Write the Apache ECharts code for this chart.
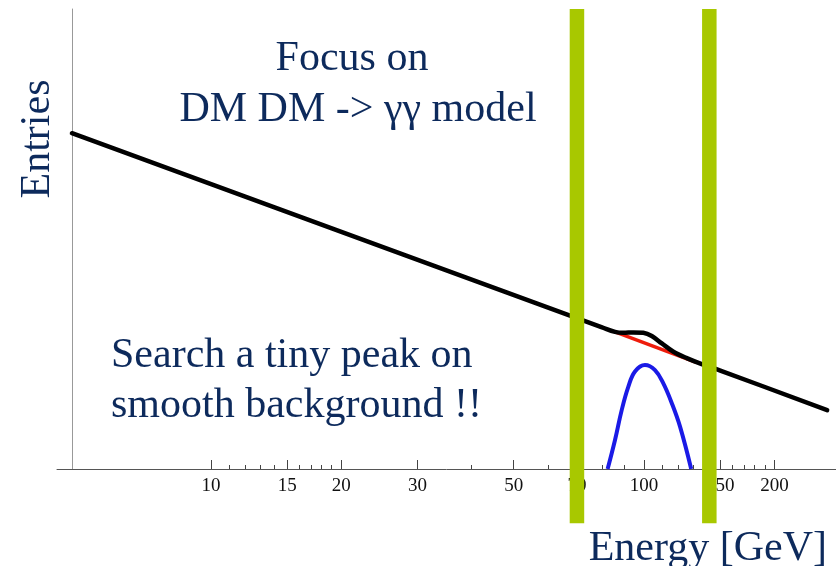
<!DOCTYPE html>
<html><head><meta charset="utf-8">
<script src="https://cdn.jsdelivr.net/npm/echarts@6/dist/echarts.min.js"></script>
<style>html,body{margin:0;padding:0;background:#fff}#c{width:836px;height:566px}</style>
</head><body><div id="c"></div>
<script>
// ---- data (energies in GeV, entries in arbitrary units 0..100) ----
const energyRange = [4.41, 277.5];
const entriesRange = [0, 100];
const majorTicks = [10, 15, 20, 30, 50, 70, 100, 150, 200];
const majorLabels = ['10', '15', '20', '30', '50', '70', '100', '150', '200'];
const minorTicks = [11, 12, 13, 14, 16, 17, 18, 19, 40, 60, 80, 90, 110, 120, 130, 140, 160, 170, 180, 190];

const totalE = [4.775, 80, 85.7, 89.6, 94.5, 99.6, 104.2, 109.9, 116.9, 125.5, 135.9, 150, 264.7];
const totalY = [73.0, 30.8, 29.8, 29.6, 29.7, 29.6, 28.9, 27.3, 25.5, 24.1, 22.8, 21.4, 12.8];

const bkgE = [85.7, 132];
const bkgY = [29.8, 23.2];

const signalE = [82.4, 85.7, 88.8, 92.0, 95.3, 100.5, 106.0, 110.8, 115.9, 121.1, 128.5];
const signalY = [0, 6.3, 12.8, 17.9, 21.2, 22.6, 21.5, 18.6, 14.3, 9.2, 0];

const windowE = [70, 141.5];
const windowTop = 100;
const windowBottom = -11.8;

// ---- build ----
const lg = v => Math.log10(v);
const pairs = (xs, ys) => xs.map((x, i) => [lg(x), ys[i]]);
const textColor = '#0d2a5c';
const serif = 'Liberation Serif';

const chart = echarts.init(document.getElementById('c'), null, {renderer: 'canvas'});
const option = {
  animation: false,
  backgroundColor: '#fff',
  grid: {left: 57, right: 0, top: 9, bottom: 97, containLabel: false},
  xAxis: [{
    type: 'value', min: lg(energyRange[0]), max: lg(energyRange[1]),
    position: 'bottom',
    axisLine: {show: true, lineStyle: {color: '#555', width: 1}},
    splitLine: {show: false},
    axisTick: {show: true, inside: true, length: 9, customValues: majorTicks.map(lg), lineStyle: {color: '#444', width: 1}},
    axisLabel: {
      show: true, customValues: majorTicks.map(lg), margin: 8,
      fontFamily: serif, fontSize: 19, color: '#111',
      formatter: v => { const e = Math.pow(10, v); let best = 0; majorTicks.forEach((t, i) => { if (Math.abs(t - e) < Math.abs(majorTicks[best] - e)) best = i; }); return majorLabels[best]; }
    }
  }, {
    type: 'value', min: lg(energyRange[0]), max: lg(energyRange[1]),
    position: 'bottom',
    axisLine: {show: false},
    splitLine: {show: false},
    axisTick: {show: true, inside: true, length: 4, customValues: minorTicks.map(lg), lineStyle: {color: '#444', width: 1}},
    axisLabel: {show: false}
  }],
  yAxis: {
    type: 'value', min: entriesRange[0], max: entriesRange[1], offset: -15,
    axisLine: {show: true, lineStyle: {color: '#999', width: 1}},
    axisTick: {show: false}, axisLabel: {show: false}, splitLine: {show: false}
  },
  series: [
    {type: 'line', name: 'background', data: pairs(bkgE, bkgY), symbol: 'none', z: 3,
     lineStyle: {color: '#ee1c0c', width: 3.5}},
    {type: 'line', name: 'total', data: pairs(totalE, totalY), symbol: 'none', z: 4, smooth: 0.35,
     lineStyle: {color: '#000', width: 4.5, join: 'round', cap: 'round'}},
    {type: 'line', name: 'signal', data: pairs(signalE, signalY), symbol: 'none', smooth: 0.4, z: 5,
     lineStyle: {color: '#1a1ae6', width: 4}},
    {type: 'custom', name: 'window', z: 10, clip: false,
     data: windowE.map(e => [lg(e), windowTop, windowBottom]),
     encode: {x: 0, y: 1},
     renderItem: (params, api) => {
       const top = api.coord([api.value(0), api.value(1)]);
       const bot = api.coord([api.value(0), api.value(2)]);
       return {type: 'rect', shape: {x: top[0] - 7.25, y: top[1], width: 14.5, height: bot[1] - top[1]},
               style: {fill: '#a8c800'}};
     }}
  ],
  graphic: [
    {type: 'text', x: 352, y: 59, style: {text: 'Focus on', fontFamily: serif, fontSize: 42, fill: textColor, align: 'center', verticalAlign: 'middle'}},
    {type: 'text', x: 358, y: 110, style: {text: 'DM DM -> γγ model', fontFamily: serif, fontSize: 42, fill: textColor, align: 'center', verticalAlign: 'middle'}},
    {type: 'text', x: 111, y: 356, style: {text: 'Search a tiny peak on', fontFamily: serif, fontSize: 42, fill: textColor, align: 'left', verticalAlign: 'middle'}},
    {type: 'text', x: 111, y: 406, style: {text: 'smooth background !!', fontFamily: serif, fontSize: 42, fill: textColor, align: 'left', verticalAlign: 'middle'}},
    {type: 'text', x: 827, y: 549, style: {text: 'Energy [GeV]', fontFamily: serif, fontSize: 42, fill: textColor, align: 'right', verticalAlign: 'middle'}},
    {type: 'text', x: 38, y: 139, rotation: Math.PI / 2, style: {text: 'Entries', fontFamily: serif, fontSize: 42, fill: textColor, align: 'center', verticalAlign: 'middle'}}
  ]
};
chart.setOption(option);
</script>
</body></html>
